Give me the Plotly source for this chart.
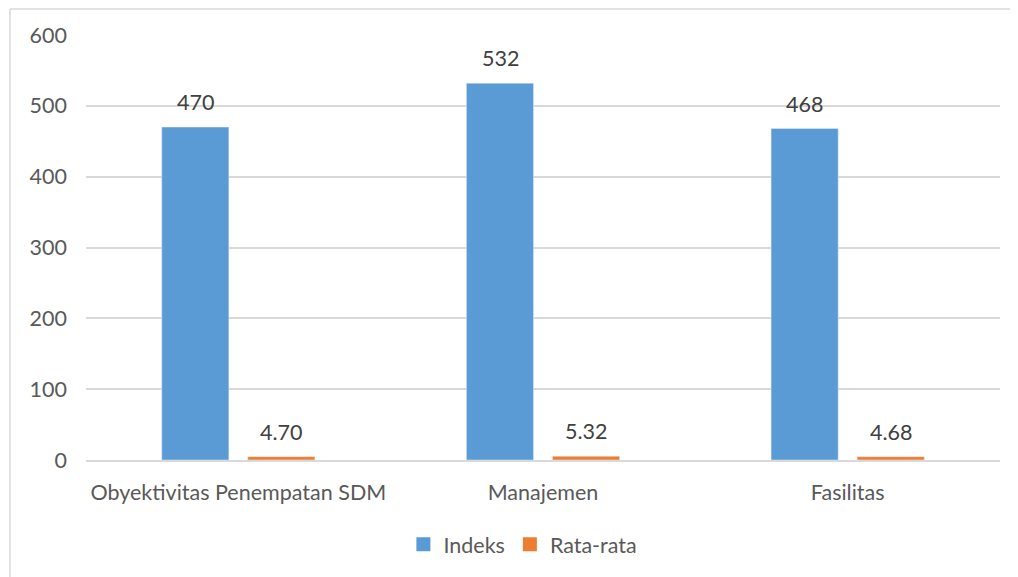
import plotly.graph_objects as go

categories = ["Obyektivitas Penempatan SDM", "Manajemen", "Fasilitas"]
indeks = [470, 532, 468]
rata_rata = [4.70, 5.32, 4.68]
indeks_labels = ["470", "532", "468"]
rata_labels = ["4.70", "5.32", "4.68"]
series_names = ["Indeks", "Rata-rata"]

BLUE = "#5B9BD5"
ORANGE = "#ED7D31"
FONT = "Lato"
FS = 21.5

fig = go.Figure()
fig.add_trace(go.Bar(name=series_names[0], x=categories, y=indeks, marker_color=BLUE, showlegend=False))
fig.add_trace(go.Bar(name=series_names[1], x=categories, y=rata_rata, marker_color=ORANGE, showlegend=False))

# legend entries with larger square swatches
for name, col in zip(series_names, [BLUE, ORANGE]):
    fig.add_trace(go.Scatter(name=name, x=[None], y=[None], mode="markers",
                             marker=dict(symbol="square", size=14, color=col), showlegend=True))

for cat, v, t in zip(categories, indeks, indeks_labels):
    fig.add_annotation(x=cat, y=v, text=t, showarrow=False, xshift=-43, yshift=25,
                       font=dict(family=FONT, size=FS, color="#404040"))
for cat, v, t in zip(categories, rata_rata, rata_labels):
    fig.add_annotation(x=cat, y=v, text=t, showarrow=False, xshift=43, yshift=25,
                       font=dict(family=FONT, size=FS, color="#404040"))

# chart border (top and left visible)
fig.add_shape(type="line", xref="paper", yref="paper", x0=-0.0832, x1=1.05, y0=1.061, y1=1.061,
              line=dict(color="#d9d9d9", width=1.5))
fig.add_shape(type="line", xref="paper", yref="paper", x0=-0.0832, x1=-0.0832, y0=1.061, y1=-0.35,
              line=dict(color="#d9d9d9", width=1.5))

fig.update_layout(
    width=1018, height=577,
    margin=dict(l=78, r=26, t=27, b=125),
    paper_bgcolor="white", plot_bgcolor="white",
    barmode="group", bargap=0.435, bargroupgap=0.22,
    font=dict(family=FONT, size=FS, color="#595959"),
    showlegend=True,
    legend=dict(orientation="h", x=0.478, xanchor="center", y=-0.198, yanchor="middle",
                font=dict(family=FONT, size=FS, color="#595959"), traceorder="normal",
                itemwidth=30, tracegroupgap=0),
    xaxis=dict(showgrid=False, showline=True, linecolor="#d9d9d9", linewidth=1.5,
               ticks="", ticklabelstandoff=12, tickfont=dict(family=FONT, size=FS, color="#595959")),
    yaxis=dict(range=[0, 600], dtick=100, showgrid=True, gridcolor="#d9d9d9", gridwidth=1.5,
               zeroline=False, showline=False, ticks="", ticklabelstandoff=18,
               tickfont=dict(family=FONT, size=FS, color="#595959")),
)

fig.write_html("out.html")
